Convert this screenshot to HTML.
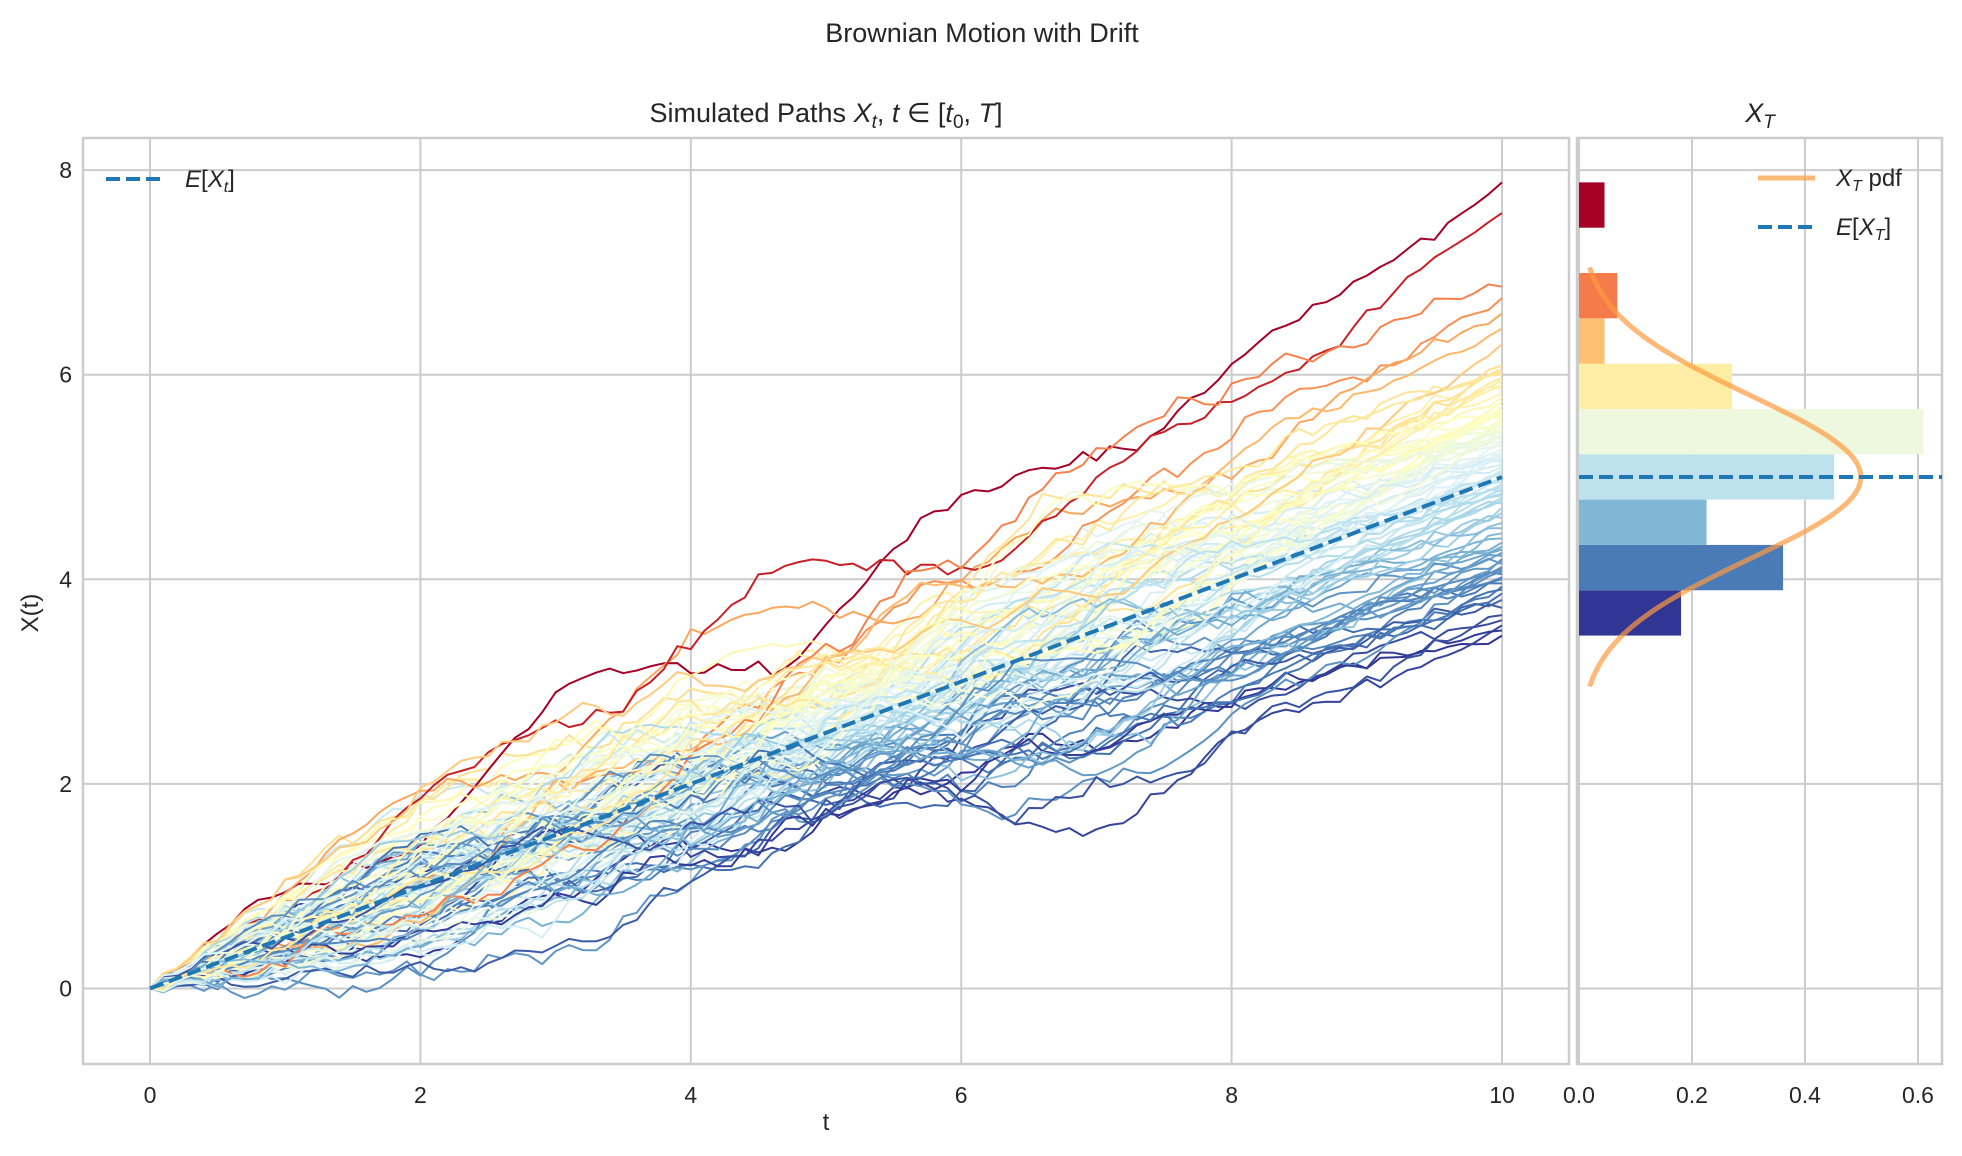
<!DOCTYPE html>
<html><head><meta charset="utf-8"><style>
html,body{margin:0;padding:0;background:#fff;}
svg{display:block;font-family:"Liberation Sans","DejaVu Sans",sans-serif;}
</style></head><body>
<svg id="chart" width="1962" height="1156" viewBox="0 0 1962 1156" xmlns="http://www.w3.org/2000/svg">
<defs><clipPath id="mainclip"><rect x="83" y="138" width="1486" height="926"/></clipPath>
<clipPath id="histclip"><rect x="1577" y="138" width="365" height="926"/></clipPath></defs>
<text x="982" y="42" text-anchor="middle" font-size="27" fill="#262626">Brownian Motion with Drift</text>
<text x="826" y="122" text-anchor="middle" font-size="27" fill="#262626">Simulated Paths <tspan font-style="italic">X</tspan><tspan font-style="italic" font-size="19" dy="6">t</tspan><tspan dy="-6">, </tspan><tspan font-style="italic">t</tspan> ∈ [<tspan font-style="italic">t</tspan><tspan font-size="19" dy="6">0</tspan><tspan dy="-6">, </tspan><tspan font-style="italic">T</tspan>]</text>
<text x="1760" y="122" text-anchor="middle" font-size="27" fill="#262626"><tspan font-style="italic">X</tspan><tspan font-style="italic" font-size="19" dy="6">T</tspan></text>
<g id="main"></g>
<g id="hist"></g>
<text x="826" y="1130" text-anchor="middle" font-size="24" fill="#262626">t</text>
<text transform="translate(38,613) rotate(-90)" text-anchor="middle" font-size="24" fill="#262626">X(t)</text>
</svg>
<script>
const finals = [3.45,3.5,3.55,3.6,3.65,3.72,3.8,3.86,
3.9,3.93,3.96,4.0,4.02,4.05,4.08,4.1,4.12,4.15,4.18,4.2,4.23,4.26,4.29,4.32,
4.36,4.4,4.45,4.5,4.55,4.6,4.65,4.7,4.74,4.77,
4.8,4.82,4.84,4.86,4.88,4.9,4.93,4.95,4.98,5.0,5.02,5.05,5.07,5.1,5.12,5.14,5.16,5.18,5.2,5.21,
5.23,5.25,5.27,5.29,5.31,5.33,5.35,5.37,5.39,5.41,5.43,5.45,5.46,5.48,5.5,5.52,5.53,5.55,5.57,5.58,5.6,5.61,5.62,5.63,5.64,5.65,5.66,
5.7,5.74,5.78,5.82,5.86,5.9,5.94,5.97,6.0,6.03,6.06,6.09,
6.3,6.45,6.6,6.75,6.86,7.58,7.88];
const walkA = [0,.1,.05,.18,.12,.25,.3,.22,.35,.28,.4,.48,.38,.45,.55,.5,.62,.58,.7,.65,.55,.6,.48,.52,.42,.5,.38,.3,.36,.25,.32,.2,.28,.15,.22,.1,.18,.05,.12,0,-.08,.02,-.1,-.05,-.18,-.12,-.25,-.2,-.32,-.22,-.3,-.4,-.35,-.45,-.38,-.5,-.42,-.55,-.48,-.6,-.52,-.45,-.55,-.48,-.4,-.5,-.38,-.3,-.4,-.32,-.22,-.3,-.18,-.25,-.12,-.2,-.08,-.15,-.05,.02,0];
const walkB = [0,-.08,-.02,-.15,-.1,-.22,-.3,-.25,-.35,-.28,-.2,-.32,-.4,-.35,-.48,-.42,-.55,-.6,-.52,-.65,-.58,-.7,-.62,-.75,-.68,-.6,-.7,-.62,-.5,-.58,-.45,-.52,-.4,-.3,-.38,-.25,-.32,-.2,-.1,-.18,-.05,-.12,0,.08,.02,.12,.05,.18,.1,.22,.3,.25,.35,.28,.4,.32,.45,.38,.5,.42,.35,.45,.38,.3,.4,.32,.25,.35,.28,.2,.3,.22,.15,.25,.18,.1,.2,.12,.05,.1,0];
const walkC = [0,.06,-.04,.08,.15,.05,.12,-.02,.05,-.08,-.02,-.15,-.08,-.2,-.12,-.05,-.15,-.08,.02,-.06,.08,.15,.05,.18,.25,.15,.22,.32,.25,.38,.3,.42,.35,.45,.4,.3,.38,.28,.35,.22,.3,.18,.1,.2,.12,.02,.1,0,-.1,-.02,-.12,-.2,-.15,-.25,-.18,-.3,-.22,-.32,-.4,-.3,-.38,-.28,-.35,-.25,-.18,-.28,-.2,-.1,-.18,-.08,-.15,-.05,.02,-.06,.05,-.02,.08,.02,-.05,.03,0];
const walkD = [0,-.05,.06,-.02,-.1,-.04,-.15,-.08,.02,-.06,.05,.12,.04,.15,.22,.12,.2,.1,.18,.08,-.02,.06,-.05,.04,-.08,-.16,-.06,-.14,-.05,.05,-.03,.08,.16,.06,.14,.25,.18,.28,.2,.3,.22,.12,.2,.1,.02,.1,-.02,.06,-.06,-.14,-.05,-.15,-.22,-.12,-.2,-.28,-.18,-.25,-.15,-.22,-.1,-.18,-.08,.02,-.06,.05,-.03,.08,.15,.06,.12,.02,.08,-.02,.05,-.04,.03,-.05,.02,-.03,0];
const xTicks = [0,2,4,6,8,10];
const yTicks = [0,2,4,6,8];
const histTicks = [0.0,0.2,0.4,0.6];
const histTickLabels = ["0.0","0.2","0.4","0.6"];
const drift = 0.5, T = 10, pdfMean = 5, pdfSd = 0.8, nBins = 10;

const NS = "http://www.w3.org/2000/svg";
const X = t => 150 + t * 135.2;
const Y = v => 988.5 - v * 102.3;
const HX = d => 1579 + d * 565;
const stops = ["#313695","#4575b4","#74add1","#abd9e9","#e0f3f8","#ffffbf","#fee090","#fdae61","#f46d43","#d73027","#a50026"];
function cmap(f){f=Math.max(0,Math.min(1,f));const p=f*10,i=Math.min(9,Math.floor(p)),r=p-i;
 const a=stops[i],b=stops[i+1];const c=k=>Math.round(parseInt(a.substr(k,2),16)*(1-r)+parseInt(b.substr(k,2),16)*r);
 return "rgb("+c(1)+","+c(3)+","+c(5)+")";}
function mk(tag, attrs, parent){const e=document.createElementNS(NS,tag);for(const k in attrs)e.setAttribute(k,attrs[k]);parent.appendChild(e);return e;}
const main = document.getElementById('main'), hist = document.getElementById('hist');
for (const t of xTicks){
 const g = mk('line',{x1:X(t),x2:X(t),y1:138,y2:1064,stroke:'#cccccc','stroke-width':2},main);
  
 const l = mk('text',{x:X(t),y:1103,'text-anchor':'middle','font-size':23,fill:'#262626'},main); l.textContent=t;
  
}
for (const v of yTicks){
 for (const [x1,x2] of [[83,1569],[1577,1942]]){
  const g = mk('line',{x1:x1,x2:x2,y1:Y(v),y2:Y(v),stroke:'#cccccc','stroke-width':2},main);
   
 }
 const l = mk('text',{x:72,y:Y(v)+8,'text-anchor':'end','font-size':23,fill:'#262626'},main); l.textContent=v;
  
}
histTicks.forEach((d,i)=>{
 const g = mk('line',{x1:HX(d),x2:HX(d),y1:138,y2:1064,stroke:'#cccccc','stroke-width':2},hist);
  
 const l = mk('text',{x:HX(d),y:1103,'text-anchor':'middle','font-size':23,fill:'#262626'},hist); l.textContent=histTickLabels[i];
  
});
const bases=[walkA,walkB,walkC,walkD];
const N=101;
function res(arr){const L=arr.length,out=[];for(let k=0;k<N;k++){const p=k*(L-1)/(N-1),i=Math.floor(p),r=p-i;const v=i>=L-1?arr[L-1]:arr[i]*(1-r)+arr[i+1]*r;out.push(v);}
 const e=out[N-1];return out.map((v,k)=>v-e*k/(N-1));}
const R=bases.map(res);
const fmin=Math.min(...finals), fmax=Math.max(...finals);
const pg = mk('g',{'clip-path':'url(#mainclip)'},main);
 
const n=finals.length;
for (let j=0;j<n;j++){
 const i=(j*37)%n;
 const P=R[i%4], Q=R[(Math.floor(i/4)+1)%4], Jd=bases[(i+2)%4];
 const s1=(i%3===0)?-1:1, s2=(Math.floor(i/2)%2)?-1:1, rev=(i%5<2);
 const L=Jd.length, off=(i*7)%L;
 let d='';
 for (let k=0;k<N;k++){
  const t=T*k/(N-1), f=k/(N-1);
  const q=rev?Q[N-1-k]:Q[k];
  const jit=0.6*(Jd[(k*3+off)%L]-Jd[off%L])*4*f*(1-f)*(k<N-1?1:0);
  const v=finals[i]*f + 0.7*(s1*P[k]+0.7*s2*q) + jit;
  d+=(k?'L':'M')+X(t).toFixed(1)+','+Y(v).toFixed(1);
 }
 const p=mk('path',{d:d,fill:'none',stroke:cmap((finals[i]-fmin)/(fmax-fmin)),'stroke-width':2,'stroke-linejoin':'round'},pg);
  
}
const ml=mk('line',{x1:X(0),y1:Y(0),x2:X(T),y2:Y(drift*T),stroke:'#1f77b4','stroke-width':4,'stroke-dasharray':'14,6'},main);
 
const w=(fmax-fmin)/nBins, counts=new Array(nBins).fill(0);
for (const v of finals){let b=Math.floor((v-fmin)/w);if(b>=nBins)b=nBins-1;counts[b]++;}
const hg=mk('g',{'clip-path':'url(#histclip)'},hist);
counts.forEach((c,b)=>{
 const dens=c/(n*w); if(!c) return;
 const r=mk('rect',{x:HX(0),y:Y(fmin+(b+1)*w),width:HX(dens)-HX(0),height:Y(fmin+b*w)-Y(fmin+(b+1)*w),fill:cmap(b/(nBins-1))},hg);
  
});
let pd='';
for (let k=0;k<=120;k++){const v=pdfMean-2.56*pdfSd+k*(5.12*pdfSd)/120;const dd=Math.exp(-0.5*((v-pdfMean)/pdfSd)**2)/(pdfSd*Math.sqrt(2*Math.PI));pd+=(k?'L':'M')+HX(dd).toFixed(1)+','+Y(v).toFixed(1);}
const pc=mk('path',{d:pd,fill:'none',stroke:'#fd9a3f','stroke-opacity':0.7,'stroke-width':5},hg);
 
const hl=mk('line',{x1:1579,x2:1942,y1:Y(pdfMean),y2:Y(pdfMean),stroke:'#1f77b4','stroke-width':4,'stroke-dasharray':'14,6'},hg);
 
for (const [x,wd] of [[83,1486],[1577,365]]){
 const s=mk('rect',{x:x,y:138,width:wd,height:926,fill:'none',stroke:'#cccccc','stroke-width':2.5},main);
  
}
</script>
<svg style="position:absolute;left:0;top:0" width="1962" height="1156">
<g font-family="Liberation Sans, sans-serif">
<line x1="106" x2="162" y1="179" y2="179" stroke="#1f77b4" stroke-width="4" stroke-dasharray="14,6"/>
<text x="185" y="187" font-size="24" fill="#262626"><tspan font-style="italic">E</tspan>[<tspan font-style="italic">X</tspan><tspan font-style="italic" font-size="16" dy="5">t</tspan><tspan dy="-5">]</tspan></text>
</g>
<g font-family="Liberation Sans, sans-serif">
<line x1="1758" x2="1815" y1="178" y2="178" stroke="#fd9a3f" stroke-opacity="0.7" stroke-width="5"/>
<text x="1836" y="186" font-size="24" fill="#262626"><tspan font-style="italic">X</tspan><tspan font-style="italic" font-size="16" dy="5">T</tspan><tspan dy="-5"> pdf</tspan></text>
<line x1="1758" x2="1815" y1="227" y2="227" stroke="#1f77b4" stroke-width="4" stroke-dasharray="14,6"/>
<text x="1836" y="235" font-size="24" fill="#262626"><tspan font-style="italic">E</tspan>[<tspan font-style="italic">X</tspan><tspan font-style="italic" font-size="16" dy="5">T</tspan><tspan dy="-5">]</tspan></text>
</g>
</svg>
</body></html>
